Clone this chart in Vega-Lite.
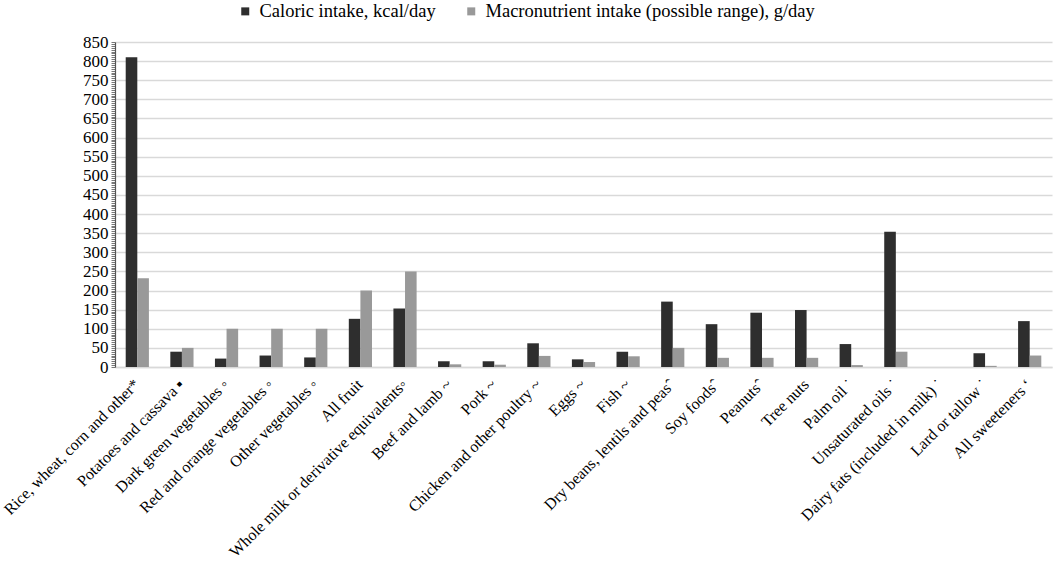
{
  "$schema": "https://vega.github.io/schema/vega-lite/v6.json",
  "width": 937,
  "height": 325,
  "autosize": {"type": "none"},
  "padding": {"left": 115, "top": 42, "right": 2, "bottom": 195},
  "background": "white",
  "data": {
    "values": [
      {"food": "Rice, wheat, corn and other*", "series": "Caloric intake, kcal/day", "value": 810},
      {"food": "Rice, wheat, corn and other*", "series": "Macronutrient intake (possible range), g/day", "value": 232},
      {"food": "Potatoes and cassava ▪", "series": "Caloric intake, kcal/day", "value": 40},
      {"food": "Potatoes and cassava ▪", "series": "Macronutrient intake (possible range), g/day", "value": 50},
      {"food": "Dark green vegetables ◦", "series": "Caloric intake, kcal/day", "value": 22},
      {"food": "Dark green vegetables ◦", "series": "Macronutrient intake (possible range), g/day", "value": 100},
      {"food": "Red and orange vegetables ◦", "series": "Caloric intake, kcal/day", "value": 30},
      {"food": "Red and orange vegetables ◦", "series": "Macronutrient intake (possible range), g/day", "value": 100},
      {"food": "Other vegetables ◦", "series": "Caloric intake, kcal/day", "value": 25},
      {"food": "Other vegetables ◦", "series": "Macronutrient intake (possible range), g/day", "value": 100},
      {"food": "All fruit", "series": "Caloric intake, kcal/day", "value": 126},
      {"food": "All fruit", "series": "Macronutrient intake (possible range), g/day", "value": 200},
      {"food": "Whole milk or derivative equivalents◦", "series": "Caloric intake, kcal/day", "value": 153},
      {"food": "Whole milk or derivative equivalents◦", "series": "Macronutrient intake (possible range), g/day", "value": 250},
      {"food": "Beef and lamb ~", "series": "Caloric intake, kcal/day", "value": 15},
      {"food": "Beef and lamb ~", "series": "Macronutrient intake (possible range), g/day", "value": 7},
      {"food": "Pork ~", "series": "Caloric intake, kcal/day", "value": 15},
      {"food": "Pork ~", "series": "Macronutrient intake (possible range), g/day", "value": 6},
      {"food": "Chicken and other poultry ~", "series": "Caloric intake, kcal/day", "value": 62},
      {"food": "Chicken and other poultry ~", "series": "Macronutrient intake (possible range), g/day", "value": 29},
      {"food": "Eggs ~", "series": "Caloric intake, kcal/day", "value": 20},
      {"food": "Eggs ~", "series": "Macronutrient intake (possible range), g/day", "value": 13},
      {"food": "Fish ~", "series": "Caloric intake, kcal/day", "value": 40},
      {"food": "Fish ~", "series": "Macronutrient intake (possible range), g/day", "value": 28},
      {"food": "Dry beans, lentils and peasˆ", "series": "Caloric intake, kcal/day", "value": 171},
      {"food": "Dry beans, lentils and peasˆ", "series": "Macronutrient intake (possible range), g/day", "value": 50},
      {"food": "Soy foodsˆ", "series": "Caloric intake, kcal/day", "value": 112},
      {"food": "Soy foodsˆ", "series": "Macronutrient intake (possible range), g/day", "value": 24},
      {"food": "Peanutsˆ", "series": "Caloric intake, kcal/day", "value": 142},
      {"food": "Peanutsˆ", "series": "Macronutrient intake (possible range), g/day", "value": 24},
      {"food": "Tree nuts", "series": "Caloric intake, kcal/day", "value": 149},
      {"food": "Tree nuts", "series": "Macronutrient intake (possible range), g/day", "value": 24},
      {"food": "Palm oil ˙", "series": "Caloric intake, kcal/day", "value": 60},
      {"food": "Palm oil ˙", "series": "Macronutrient intake (possible range), g/day", "value": 5},
      {"food": "Unsaturated oils ˙", "series": "Caloric intake, kcal/day", "value": 354},
      {"food": "Unsaturated oils ˙", "series": "Macronutrient intake (possible range), g/day", "value": 40},
      {"food": "Dairy fats (included in milk) ˙", "series": "Caloric intake, kcal/day", "value": 0},
      {"food": "Dairy fats (included in milk) ˙", "series": "Macronutrient intake (possible range), g/day", "value": 0},
      {"food": "Lard or tallow ˙", "series": "Caloric intake, kcal/day", "value": 36},
      {"food": "Lard or tallow ˙", "series": "Macronutrient intake (possible range), g/day", "value": 3},
      {"food": "All sweeteners ʻ", "series": "Caloric intake, kcal/day", "value": 120},
      {"food": "All sweeteners ʻ", "series": "Macronutrient intake (possible range), g/day", "value": 30}
    ]
  },
  "mark": {"type": "bar"},
  "encoding": {
    "x": {
      "field": "food",
      "type": "nominal",
      "sort": null,
      "scale": {"paddingInner": 0.48, "paddingOuter": 0.24},
      "axis": {
        "title": null,
        "labelAngle": -45,
        "labelAlign": "right",
        "labelBaseline": "top",
        "labelFont": "Liberation Serif",
        "labelFontSize": 16,
        "labelColor": "black",
        "labelLimit": 400,
        "labelPadding": 9,
        "labelOffset": -6,
        "ticks": false,
        "domainColor": "#d9d9d9",
        "domainWidth": 1.5
      }
    },
    "xOffset": {"field": "series", "sort": null},
    "y": {
      "field": "value",
      "type": "quantitative",
      "scale": {"domain": [0, 850], "nice": false},
      "axis": {
        "title": null,
        "values": [0,5,10,15,20,25,30,35,40,45,50,55,60,65,70,75,80,85,90,95,100,105,110,115,120,125,130,135,140,145,150,155,160,165,170,175,180,185,190,195,200,205,210,215,220,225,230,235,240,245,250,255,260,265,270,275,280,285,290,295,300,305,310,315,320,325,330,335,340,345,350,355,360,365,370,375,380,385,390,395,400,405,410,415,420,425,430,435,440,445,450,455,460,465,470,475,480,485,490,495,500,505,510,515,520,525,530,535,540,545,550,555,560,565,570,575,580,585,590,595,600,605,610,615,620,625,630,635,640,645,650,655,660,665,670,675,680,685,690,695,700,705,710,715,720,725,730,735,740,745,750,755,760,765,770,775,780,785,790,795,800,805,810,815,820,825,830,835,840,845,850],
        "labelExpr": "datum.value % 50 === 0 ? datum.label : ''",
        "labelOverlap": false,
        "labelFont": "Liberation Serif",
        "labelFontSize": 17,
        "labelColor": "black",
        "labelPadding": 3,
        "tickSize": 4,
        "tickColor": "#555555",
        "tickWidth": 0.8,
        "domainColor": "#555555",
        "domainWidth": 1.2,
        "grid": true,
        "gridColor": "#d9d9d9",
        "gridWidth": 1.5,
        "gridOpacity": {"condition": {"test": "datum.value % 50 === 0", "value": 1}, "value": 0}
      }
    },
    "color": {
      "field": "series",
      "type": "nominal",
      "sort": null,
      "scale": {
        "domain": ["Caloric intake, kcal/day", "Macronutrient intake (possible range), g/day"],
        "range": ["#2e2e2e", "#999999"]
      },
      "legend": {
        "title": null,
        "orient": "none",
        "legendX": 121,
        "legendY": -40,
        "direction": "horizontal",
        "symbolType": "square",
        "symbolSize": 64,
        "symbolStrokeWidth": 0,
        "labelFont": "Liberation Serif",
        "labelFontSize": 18.5,
        "labelColor": "black",
        "labelOffset": 5,
        "labelLimit": 500,
        "columnPadding": 26
      }
    }
  },
  "config": {"view": {"stroke": null}}
}
